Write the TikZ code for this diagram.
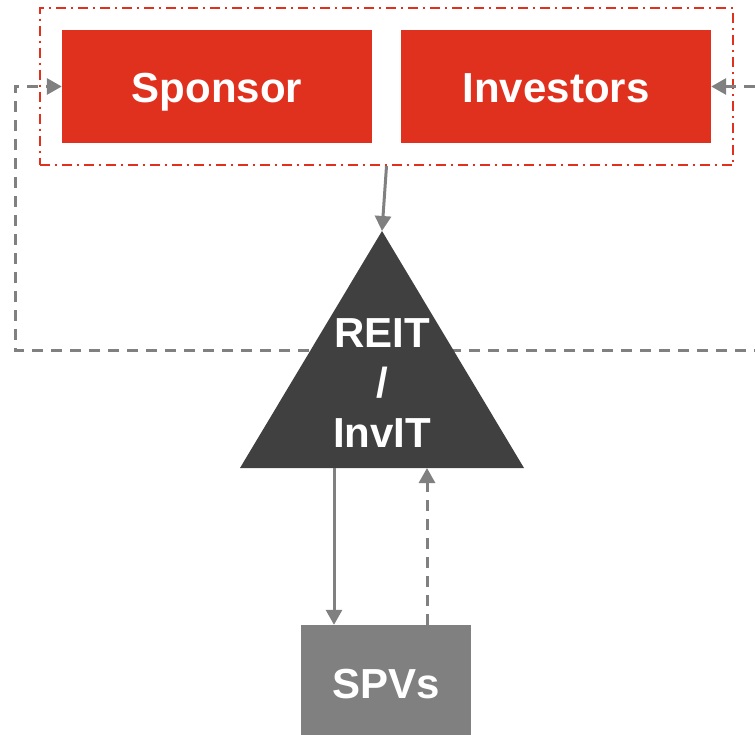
\documentclass[tikz,border=0pt]{standalone}
\usepackage{fontspec}
\setmainfont{Liberation Sans}
\usetikzlibrary{arrows.meta,fit}
\definecolor{brandred}{HTML}{E0311F}
\definecolor{linegray}{HTML}{808080}
\definecolor{trustgray}{HTML}{404040}
\begin{document}
\begin{tikzpicture}[x=1pt,y=-1pt,
  labelfont/.style={font=\fontsize{42}{50}\selectfont\bfseries, text=white},
  redbox/.style={labelfont, fill=brandred, minimum width=310pt, minimum height=113pt,
    inner sep=0pt, text height=32pt, text depth=0pt},
  spvbox/.style={labelfont, fill=linegray, minimum width=170pt, minimum height=116pt,
    inner sep=0pt, text height=30pt, text depth=0pt},
  frame/.style={draw=brandred, line width=1.8pt, dash pattern=on 10pt off 5pt on 2pt off 5pt, inner sep=22pt},
  flowtip/.tip={Triangle[length=15pt,width=16pt]},
  flow/.style={draw=linegray, line width=3pt, -{flowtip}},
  backflow/.style={draw=linegray, line width=3pt, dash pattern=on 11pt off 8pt},
]
\useasboundingbox (0,0) rectangle (755,735);
\clip (0,0) rectangle (755,735);

% unit holders and the frame around them
\node[redbox] (sponsor) at (217,86.5) {Sponsor};
\node[redbox] (investors) at (556,86.5) {Investors};
\node[frame, fit=(sponsor)(investors)] (holders) {};

% return loop back to the unit holders (runs behind the trust)
\coordinate (loopR) at (775,86.5);
\coordinate (loopRB) at (775,350);
\coordinate (loopLB) at (15,350);
\coordinate (loopL) at (15,86.5);
\draw[backflow, {flowtip}-{flowtip}] (investors.east) -- (loopR) -- (loopRB) -- (loopLB) -- (loopL) -- (sponsor.west);

% the trust
\coordinate (apex) at (382,231);
\coordinate (baseL) at (240,468);
\coordinate (baseR) at (524,468);
\fill[trustgray] (apex) -- (baseL) -- (baseR) -- cycle;
\node[labelfont, align=center] (trust) at (382,383) {REIT\\/\\InvIT};

% special purpose vehicles
\node[spvbox] (spvs) at (386,683) {SPVs};

% capital flows down
\draw[flow] (holders.south) -- (apex);
\coordinate (downstart) at (334,468);
\draw[flow] (downstart) -- (downstart |- spvs.north);

% distributions flow back up
\coordinate (upend) at (427,468);
\draw[backflow, -{flowtip}] (upend |- spvs.north) -- (upend);
\end{tikzpicture}
\end{document}
